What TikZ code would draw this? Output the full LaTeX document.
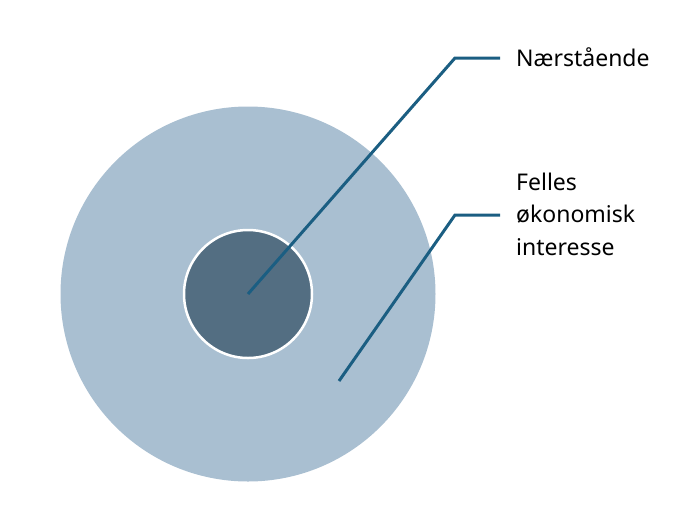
\documentclass[tikz,border=0pt]{standalone}
\usepackage{fontspec}
\setmainfont{Noto Sans}
\definecolor{outerc}{HTML}{A9BFD1}
\definecolor{innerc}{HTML}{536E82}
\definecolor{linec}{HTML}{1B5E82}
\begin{document}
\begin{tikzpicture}[x=1pt,y=-1pt,
  lead/.style={draw=linec,line width=3pt},
  lbl/.style={anchor=west,inner sep=0pt,font=\fontsize{23}{32.5}\selectfont,align=left,text=black}]
\useasboundingbox (0,0) rectangle (680,507);
\fill[outerc] (248,294) circle (187.5);
\node[circle,fill=innerc,draw=white,line width=2.5pt,minimum size=128pt,inner sep=0pt] (inner) at (248,294) {};
\coordinate (c1) at (248,294);
\coordinate (k1) at (455,58);
\coordinate (e1) at (500,58);
\coordinate (c2) at (339,381);
\coordinate (k2) at (455,215);
\coordinate (e2) at (500,215);
\draw[lead] (c1) -- (k1) -- (e1);
\draw[lead] (c2) -- (k2) -- (e2);
\node[lbl] (t1) at (516,57) {Nærstående};
\node[lbl] (t2) at (516,214) {Felles\\økonomisk\\interesse};
\end{tikzpicture}
\end{document}
